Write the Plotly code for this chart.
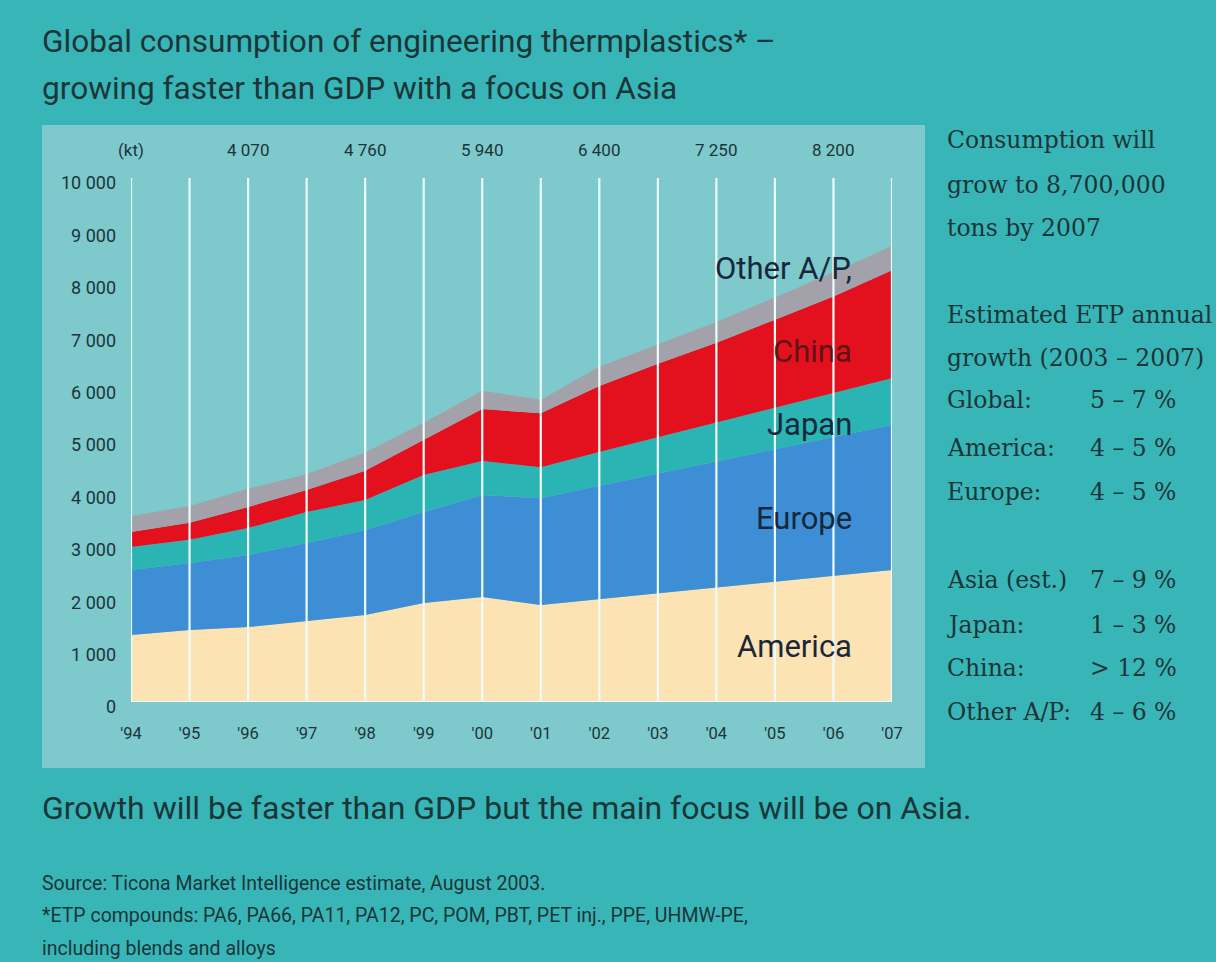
import plotly.graph_objects as go

# ---- data (kt) ----
years = list(range(1994, 2008))
year_labels = ["'94", "'95", "'96", "'97", "'98", "'99", "'00",
               "'01", "'02", "'03", "'04", "'05", "'06", "'07"]

america = [1280, 1375, 1430, 1545, 1660, 1890, 2005, 1850, 1960, 2075, 2185, 2300, 2410, 2520]
europe = [1240, 1280, 1375, 1490, 1620, 1735, 1945, 2040, 2165, 2285, 2405, 2520, 2645, 2765]
japan = [440, 440, 515, 590, 575, 705, 650, 590, 645, 695, 745, 795, 845, 895]
china = [285, 325, 400, 420, 560, 670, 990, 1030, 1260, 1400, 1520, 1680, 1840, 2060]
other_ap = [305, 320, 350, 300, 345, 330, 350, 260, 370, 365, 395, 425, 460, 460]

series_names = ["America", "Europe", "Japan", "China", "Other A/P"]
series_values = [america, europe, japan, china, other_ap]
series_colors = ["#fde2b4", "#3d8ed5", "#2bb4b4", "#e2111d", "#a3a2aa"]

y_tickvals = [0, 1000, 2000, 3000, 4000, 5000, 6000, 7000, 8000, 9000, 10000]
y_ticktext = ["0", "1 000", "2 000", "3 000", "4 000", "5 000",
              "6 000", "7 000", "8 000", "9 000", "10 000"]

# totals printed above the chart every second year
total_label_years = [1996, 1998, 2000, 2002, 2004, 2006]

growth_rows = [("Global:", "5 – 7 %"), ("America:", "4 – 5 %"), ("Europe:", "4 – 5 %"),
               ("Asia (est.)", "7 – 9 %"), ("Japan:", "1 – 3 %"), ("China:", "> 12 %"),
               ("Other A/P:", "4 – 6 %")]

# ---- layout constants (pixels) ----
W, H = 1216, 962
OUTER = "rgb(56,181,183)"
PANEL = "rgb(125,201,204)"
INK = "#1c3538"
SANS = "Roboto, Open Sans, sans-serif"
SERIF = "DejaVu Serif, Liberation Serif, serif"
growth_row_y = [400, 448, 492, 580, 625, 668, 712]


def px(x, y):
    """pixel position -> paper fraction"""
    return x / W, 1 - y / H


fig = go.Figure()

for name, vals, col in zip(series_names, series_values, series_colors):
    fig.add_trace(go.Scatter(
        x=years, y=vals, name=name, stackgroup="one", mode="lines",
        line=dict(width=0, color=col), fillcolor=col, hoverinfo="x+y+name"))

# light panel behind the chart
x0, y1 = px(42, 125)
x1, y0 = px(925, 768)
shapes = [dict(type="rect", xref="paper", yref="paper", x0=x0, x1=x1, y0=y0, y1=y1,
               fillcolor=PANEL, line=dict(width=0), layer="below")]

# white year lines over the areas
for yr in years:
    shapes.append(dict(type="line", xref="x", yref="y", x0=yr, x1=yr, y0=0, y1=10000,
                       line=dict(color="#effcfc", width=2.2), layer="above"))
shapes.append(dict(type="line", xref="x", yref="y", x0=years[0], x1=years[-1], y0=0, y1=0,
                   line=dict(color="#effcfc", width=2.2), layer="above"))

annotations = []


def text(x, y, s, size, family=SANS, anchor="left", color=INK, xref="paper", yref="paper"):
    annotations.append(dict(x=x, y=y, xref=xref, yref=yref, text=s, showarrow=False,
                            xanchor=anchor, yanchor="middle", borderpad=0,
                            font=dict(size=size, family=family, color=color)))


# title
for i, line in enumerate(["Global consumption of engineering thermplastics* –",
                          "growing faster than GDP with a focus on Asia"]):
    x, y = px(41, 42 + i * 46)
    text(x, y, line, 31.6)

# totals row above the plot
_, ytop = px(0, 150)
text(1994, ytop, "(kt)", 17, anchor="center", xref="x")
totals = [sum(v[i] for v in series_values) for i in range(len(years))]
for yr in total_label_years:
    t = totals[years.index(yr)]
    text(yr, ytop, f"{t:,}".replace(",", " "), 17, anchor="center", xref="x")

# series labels inside the areas
label_pos = {"America": 1050, "Europe": 3510, "Japan": 5290, "China": 6680, "Other A/P,": 8280}
for lab, yv in label_pos.items():
    col = "rgba(70,20,20,0.85)" if lab == "China" else "#18283a"
    text(2006.33, yv, lab, 31, anchor="right", color=col, xref="x", yref="y")

# right-hand notes
right_lines = [(140, "Consumption will"), (185, "grow to 8,700,000"), (228, "tons by 2007"),
               (315, "Estimated ETP annual"), (358, "growth (2003 – 2007)")]
for yy, s in right_lines:
    x, y = px(946, yy)
    text(x, y, s, 23.5, family=SERIF)
for (lab, val), yy in zip(growth_rows, growth_row_y):
    x, y = px(946, yy)
    text(x, y, lab, 23.5, family=SERIF)
    x, y = px(1089, yy)
    text(x, y, val, 23.5, family=SERIF)

# bottom statement and source
x, y = px(41, 808)
text(x, y, "Growth will be faster than GDP but the main focus will be on Asia.", 32)
for yy, s in [(883, "Source: Ticona Market Intelligence estimate, August 2003."),
              (915, "*ETP compounds: PA6, PA66, PA11, PA12, PC, POM, PBT, PET inj., PPE, UHMW-PE,"),
              (948, "including blends and alloys")]:
    x, y = px(41, yy)
    text(x, y, s, 19.5)

xd0, _ = px(131, 0)
xd1, _ = px(892, 0)
_, yd0 = px(0, 702)
_, yd1 = px(0, 178)

fig.update_layout(
    width=W, height=H, margin=dict(l=0, r=0, t=0, b=0, pad=0, autoexpand=False),
    paper_bgcolor=OUTER, plot_bgcolor="rgba(0,0,0,0)",
    showlegend=False, shapes=shapes, annotations=annotations,
    xaxis=dict(domain=[xd0, xd1], range=[years[0], years[-1]], tickvals=years,
               ticktext=year_labels, showgrid=False, zeroline=False, showline=False,
               ticks="", ticklabelstandoff=19, automargin=False,
               tickfont=dict(size=16.5, family=SANS, color=INK), fixedrange=True),
    yaxis=dict(domain=[yd0, yd1], range=[0, 10000], tickvals=y_tickvals,
               ticktext=y_ticktext, showgrid=False, zeroline=False, showline=False,
               ticks="", ticklabelstandoff=14, ticklabelshift=5, automargin=False,
               tickfont=dict(size=18, family=SANS, color=INK), fixedrange=True),
)

fig.write_html("out.html")
